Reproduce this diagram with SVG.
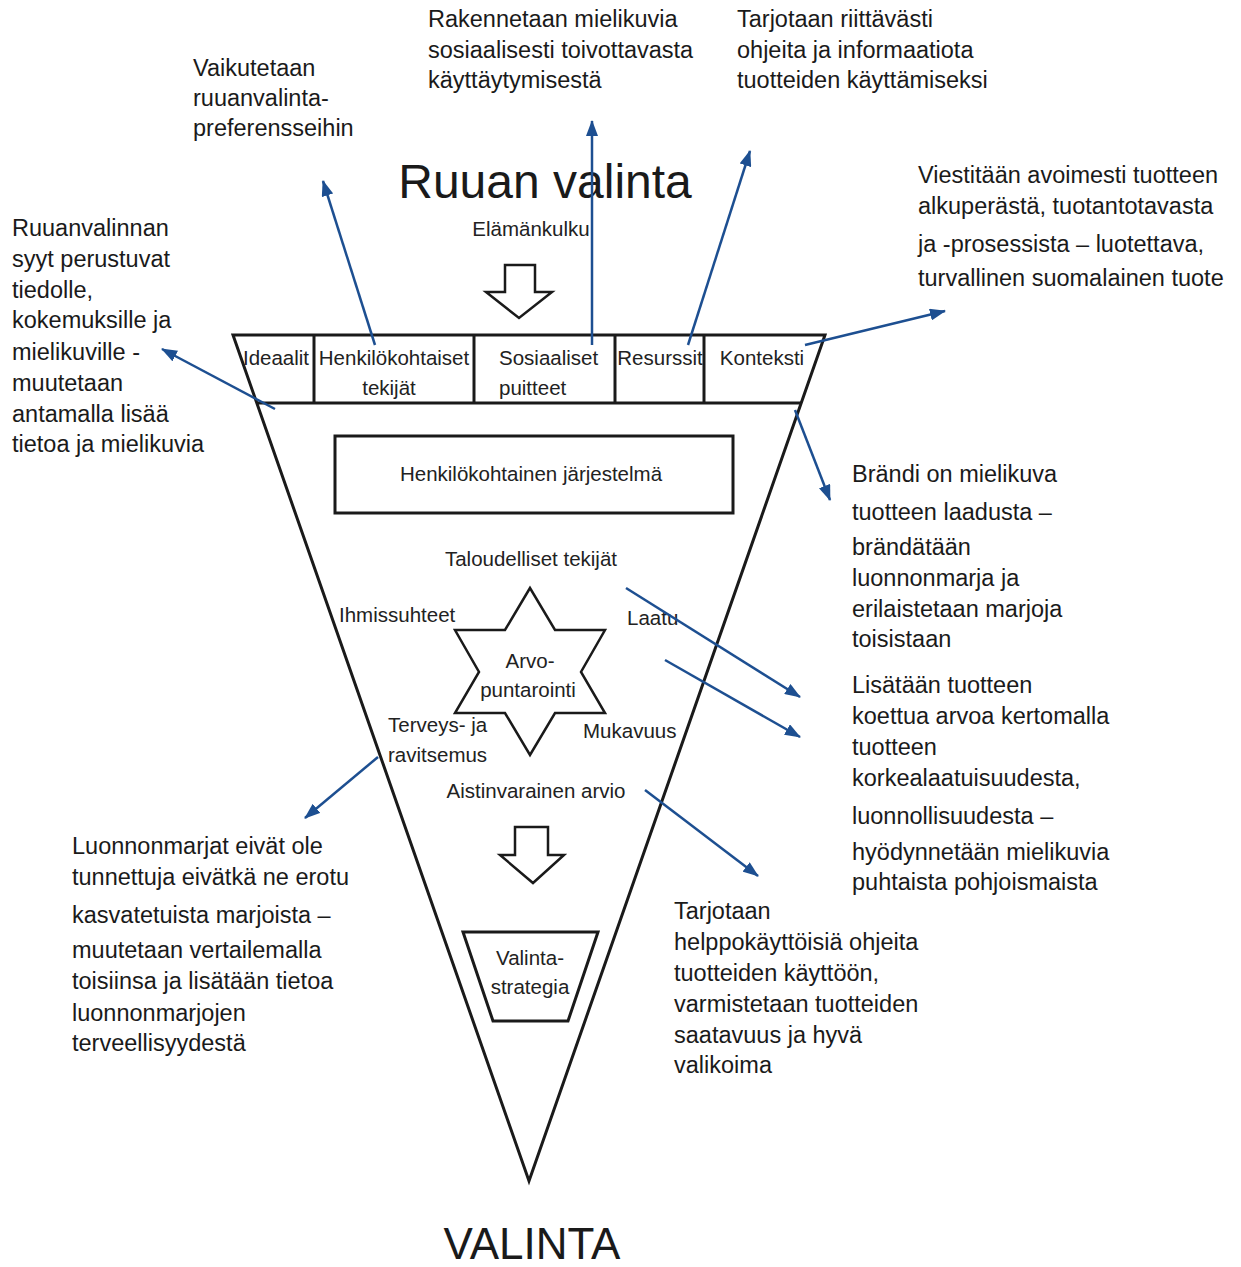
<svg xmlns="http://www.w3.org/2000/svg" width="1241" height="1267" viewBox="0 0 1241 1267">
<style>
.ann{font-family:"Liberation Sans",Arial,sans-serif;font-size:23.5px;fill:#1a1a1a}
.in{font-family:"Liberation Sans",Arial,sans-serif;font-size:20.5px;fill:#222}
.mid{text-anchor:middle}
.shape{fill:none;stroke:#1a1a1a;stroke-width:3;stroke-linejoin:miter}
.thin{fill:#fff;stroke:#1a1a1a;stroke-width:2.5}
.conn{stroke:#1d4f91;stroke-width:2.5;fill:none;marker-end:url(#ah)}
</style>
<defs>
<marker id="ah" viewBox="0 0 16 12" refX="15" refY="6" markerWidth="16" markerHeight="12" markerUnits="userSpaceOnUse" orient="auto">
<path d="M0,0 L16,6 L0,12 z" fill="#1d4f91"/>
</marker>
</defs>
<rect width="1241" height="1267" fill="#fff"/>

<g id="funnel">
<path class="shape" d="M233,335 L825,335 L529,1181 Z"/>
<line class="shape" x1="257" y1="403" x2="801" y2="403"/>
<line class="shape" x1="314" y1="335" x2="314" y2="403"/>
<line class="shape" x1="474" y1="335" x2="474" y2="403"/>
<line class="shape" x1="615" y1="335" x2="615" y2="403"/>
<line class="shape" x1="704" y1="335" x2="704" y2="403"/>
</g>

<g id="title"><text class="mid" x="545" y="198" style="font-family:'Liberation Sans',Arial,sans-serif;font-size:48px;fill:#1a1a1a">Ruuan valinta</text></g>
<g id="elamankulku"><text class="in mid" x="531" y="236">Elämänkulku</text></g>
<g id="arrow1"><path class="thin" d="M505,265 L535,265 L535,292 L552,292 L519,318 L486,292 L505,292 Z"/></g>

<g id="ideaalit"><text class="in mid" x="276" y="365">Ideaalit</text></g>
<g id="henkilokohtaiset"><text class="in mid" x="394" y="365">Henkilökohtaiset</text><text class="in mid" x="389" y="395">tekijät</text></g>
<g id="sosiaaliset"><text class="in" x="499" y="365">Sosiaaliset</text><text class="in" x="499" y="395">puitteet</text></g>
<g id="resurssit"><text class="in mid" x="660" y="365">Resurssit</text></g>
<g id="konteksti"><text class="in mid" x="762" y="365">Konteksti</text></g>

<g id="henkilokohtainen-jarjestelma">
<rect x="335" y="436" width="398" height="77" fill="none" stroke="#1a1a1a" stroke-width="3"/>
<text class="in mid" x="531" y="481">Henkilökohtainen järjestelmä</text>
</g>

<g id="taloudelliset"><text class="in mid" x="531" y="566">Taloudelliset tekijät</text></g>
<g id="ihmissuhteet"><text class="in" x="339" y="622">Ihmissuhteet</text></g>
<g id="laatu"><text class="in" x="627" y="625">Laatu</text></g>
<g id="arvopuntarointi">
<path class="thin" d="M530,588 L505,630 L455,630 L479,672 L455,713 L505,713 L530,755 L555,713 L605,713 L581,672 L605,630 L555,630 Z"/>
<text class="in mid" x="530" y="668">Arvo-</text>
<text class="in mid" x="528" y="697">puntarointi</text>
</g>
<g id="terveys"><text class="in" x="388" y="732">Terveys- ja</text><text class="in" x="388" y="762">ravitsemus</text></g>
<g id="mukavuus"><text class="in" x="583" y="738">Mukavuus</text></g>
<g id="aistinvarainen"><text class="in mid" x="536" y="798">Aistinvarainen arvio</text></g>
<g id="arrow2"><path class="thin" d="M515,827 L548,827 L548,855 L564,855 L533,883 L500,855 L515,855 Z"/></g>
<g id="valintastrategia">
<path class="shape" d="M463,932 L598,932 L568,1021 L493,1021 Z"/>
<text class="in mid" x="530" y="965">Valinta-</text>
<text class="in mid" x="530" y="994">strategia</text>
</g>
<g id="valinta"><text class="mid" x="532" y="1259" style="font-family:'Liberation Sans',Arial,sans-serif;font-size:44px;fill:#1a1a1a">VALINTA</text></g>

<g id="connectors">
<line class="conn" x1="275" y1="409" x2="162" y2="349"/>
<line class="conn" x1="375" y1="345" x2="323" y2="181"/>
<line class="conn" x1="592" y1="345" x2="592" y2="121"/>
<line class="conn" x1="688" y1="345" x2="750" y2="151"/>
<line class="conn" x1="805" y1="345" x2="945" y2="311"/>
<line class="conn" x1="795" y1="410" x2="830" y2="500"/>
<line class="conn" x1="626" y1="588" x2="800" y2="697"/>
<line class="conn" x1="665" y1="660" x2="800" y2="737"/>
<line class="conn" x1="378" y1="757" x2="305" y2="818"/>
<line class="conn" x1="645" y1="790" x2="758" y2="876"/>
</g>

<g id="note-left-top">
<text class="ann"><tspan x="12" y="236">Ruuanvalinnan</tspan><tspan x="12" y="267">syyt perustuvat</tspan><tspan x="12" y="298">tiedolle,</tspan><tspan x="12" y="328">kokemuksille ja</tspan><tspan x="12" y="360">mielikuville -</tspan><tspan x="12" y="391">muutetaan</tspan><tspan x="12" y="422">antamalla lisää</tspan><tspan x="12" y="452">tietoa ja mielikuvia</tspan></text>
</g>
<g id="note-preferenssit">
<text class="ann"><tspan x="193" y="76">Vaikutetaan</tspan><tspan x="193" y="106">ruuanvalinta-</tspan><tspan x="193" y="136">preferensseihin</tspan></text>
</g>
<g id="note-sosiaaliset">
<text class="ann"><tspan x="428" y="27">Rakennetaan mielikuvia</tspan><tspan x="428" y="58">sosiaalisesti toivottavasta</tspan><tspan x="428" y="88">käyttäytymisestä</tspan></text>
</g>
<g id="note-resurssit">
<text class="ann"><tspan x="737" y="27">Tarjotaan riittävästi</tspan><tspan x="737" y="58">ohjeita ja informaatiota</tspan><tspan x="737" y="88">tuotteiden käyttämiseksi</tspan></text>
</g>
<g id="note-konteksti">
<text class="ann"><tspan x="918" y="183">Viestitään avoimesti tuotteen</tspan><tspan x="918" y="214">alkuperästä, tuotantotavasta</tspan><tspan x="918" y="252">ja -prosessista – luotettava,</tspan><tspan x="918" y="286">turvallinen suomalainen tuote</tspan></text>
</g>
<g id="note-brandi">
<text class="ann"><tspan x="852" y="482">Brändi on mielikuva</tspan><tspan x="852" y="520">tuotteen laadusta –</tspan><tspan x="852" y="555">brändätään</tspan><tspan x="852" y="586">luonnonmarja ja</tspan><tspan x="852" y="617">erilaistetaan marjoja</tspan><tspan x="852" y="647">toisistaan</tspan></text>
</g>
<g id="note-laatu">
<text class="ann"><tspan x="852" y="693">Lisätään tuotteen</tspan><tspan x="852" y="724">koettua arvoa kertomalla</tspan><tspan x="852" y="755">tuotteen</tspan><tspan x="852" y="786">korkealaatuisuudesta,</tspan><tspan x="852" y="824">luonnollisuudesta –</tspan><tspan x="852" y="860">hyödynnetään mielikuvia</tspan><tspan x="852" y="890">puhtaista pohjoismaista</tspan></text>
</g>
<g id="note-terveys">
<text class="ann"><tspan x="72" y="854">Luonnonmarjat eivät ole</tspan><tspan x="72" y="885">tunnettuja eivätkä ne erotu</tspan><tspan x="72" y="923">kasvatetuista marjoista –</tspan><tspan x="72" y="958">muutetaan vertailemalla</tspan><tspan x="72" y="989">toisiinsa ja lisätään tietoa</tspan><tspan x="72" y="1021">luonnonmarjojen</tspan><tspan x="72" y="1051">terveellisyydestä</tspan></text>
</g>
<g id="note-aistinvarainen">
<text class="ann"><tspan x="674" y="919">Tarjotaan</tspan><tspan x="674" y="950">helppokäyttöisiä ohjeita</tspan><tspan x="674" y="981">tuotteiden käyttöön,</tspan><tspan x="674" y="1012">varmistetaan tuotteiden</tspan><tspan x="674" y="1043">saatavuus ja hyvä</tspan><tspan x="674" y="1073">valikoima</tspan></text>
</g>
</svg>
